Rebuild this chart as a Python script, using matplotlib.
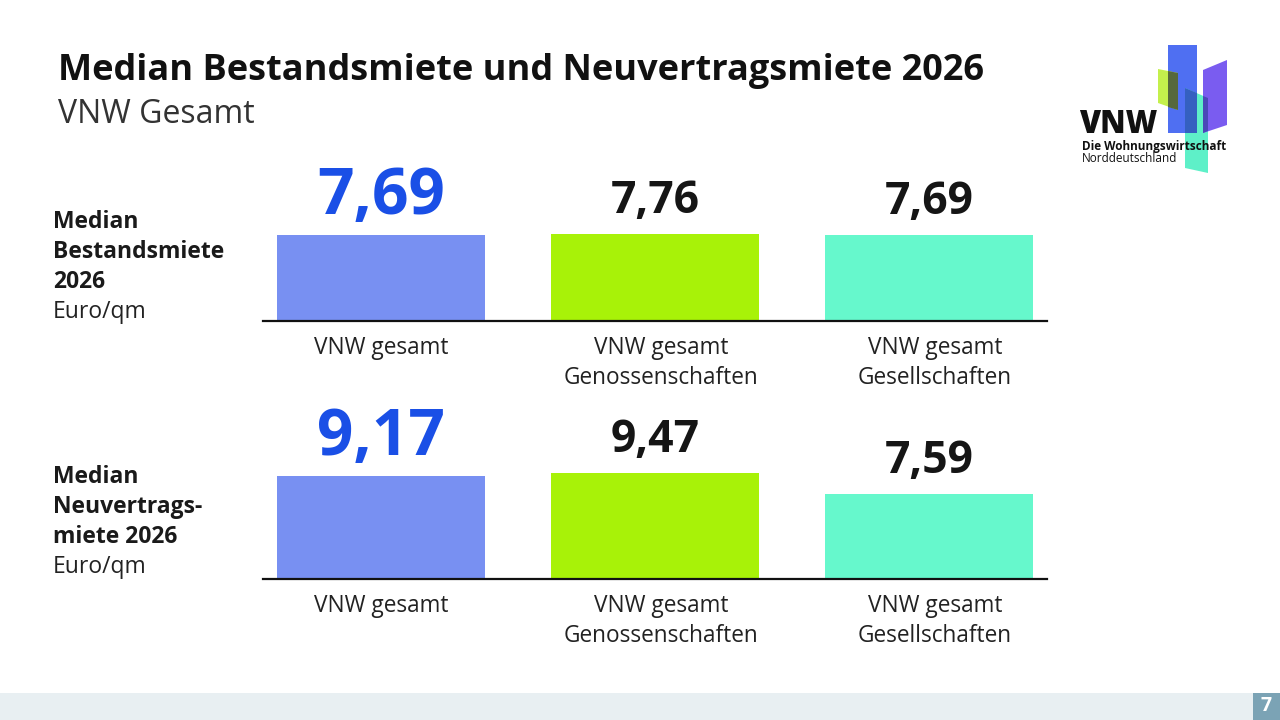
import matplotlib
matplotlib.use("Agg")
import matplotlib.pyplot as plt
import matplotlib.transforms as mtransforms
from matplotlib.patches import Polygon, Rectangle

plt.rcParams['font.family'] = ['Open Sans', 'DejaVu Sans']

# data
categories = ["VNW gesamt", "VNW gesamt\nGenossenschaften", "VNW gesamt\nGesellschaften"]
bestand = [7.69, 7.76, 7.69]
neuvertrag = [9.17, 9.47, 7.59]
bestand_labels = ["7,69", "7,76", "7,69"]
neuvertrag_labels = ["9,17", "9,47", "7,59"]
bar_colors = ["#7890f2", "#a8f208", "#66f8cc"]

W, H = 1280, 720


def fx(px):
    return px / W


def fy(py):
    return 1 - py / H


fig = plt.figure(figsize=(12.8, 7.2), dpi=100)
fig.patch.set_facecolor("white")


def draw_panel(bottom_px, values, labels):
    ax = fig.add_axes([fx(263), fy(bottom_px), fx(1047) - fx(263), 161 / H])
    x = range(len(values))
    ax.bar(x, values, width=0.76, color=bar_colors, edgecolor="none")
    ax.set_xlim(-0.4307, 2.4307)
    ax.set_ylim(0, 14.375)
    for s in ["top", "left", "right"]:
        ax.spines[s].set_visible(False)
    ax.spines["bottom"].set_linewidth(1.6)
    ax.spines["bottom"].set_color("#111111")
    ax.set_yticks([])
    ax.set_xticks(list(x))
    ax.set_xticklabels(categories, fontsize=16.3, color="#222222", linespacing=1.32)
    ax.tick_params(axis="x", length=0, pad=11)
    # the two right labels sit a little right of the bar centre in the original
    shift = mtransforms.ScaledTranslation(6 / 100, 0, fig.dpi_scale_trans)
    for t in ax.get_xticklabels()[1:]:
        t.set_transform(t.get_transform() + shift)
    for i, (v, lab) in enumerate(zip(values, labels)):
        if i == 0:
            ax.annotate(lab, (i, v), xytext=(0, 15), textcoords="offset points",
                        ha="center", va="baseline", fontsize=46, fontweight="bold",
                        color="#1a4fe6")
        else:
            ax.annotate(lab, (i, v), xytext=(0, 15), textcoords="offset points",
                        ha="center", va="baseline", fontsize=32, fontweight="bold",
                        color="#151515")
    return ax


draw_panel(321, bestand, bestand_labels)
draw_panel(579, neuvertrag, neuvertrag_labels)

# titles
fig.text(fx(58), fy(80), "Median Bestandsmiete und Neuvertragsmiete 2026",
         fontsize=26, fontweight="bold", color="#111111", va="baseline")
fig.text(fx(58), fy(123), "VNW Gesamt", fontsize=23, color="#333333", va="baseline")

# row labels
rows = [
    (["Median", "Bestandsmiete", "2026"], 228),
    (["Median", "Neuvertrags-", "miete 2026"], 483),
]
for lines, base in rows:
    for k, line in enumerate(lines):
        fig.text(fx(53), fy(base + 30 * k), line, fontsize=16.5, fontweight="bold",
                 color="#1a1a1a", va="baseline")
    fig.text(fx(53), fy(base + 90), "Euro/qm", fontsize=16.5, color="#222222",
             va="baseline")

# footer
fig.patches.append(Rectangle((0, 0), fx(1253), 27 / H, transform=fig.transFigure,
                             facecolor="#e8eff2", edgecolor="none"))
fig.patches.append(Rectangle((fx(1253), 0), 1 - fx(1253), 27 / H, transform=fig.transFigure,
                             facecolor="#7ba3b5", edgecolor="none"))
fig.text(fx(1266), fy(706), "7", fontsize=14, fontweight="bold", color="white",
         ha="center", va="center")


# logo
def poly(pts, color, alpha=1.0):
    fig.patches.append(Polygon([(fx(a), fy(b)) for a, b in pts], closed=True,
                               transform=fig.transFigure, facecolor=color,
                               edgecolor="none", alpha=alpha))


poly([(1168, 45), (1197, 45), (1197, 133), (1168, 133)], "#4f6ff2")
poly([(1158, 69), (1178, 73), (1178, 110), (1158, 103)], "#c4f04c")
poly([(1168, 71), (1178, 73), (1178, 110), (1168, 107)], "#56683c")
poly([(1185, 88), (1208, 98), (1208, 173), (1185, 168)], "#5ef0c8")
poly([(1185, 88), (1197, 93), (1197, 133), (1185, 133)], "#3560c0")
poly([(1203, 70), (1227, 60), (1227, 125), (1203, 133)], "#7a5cf0")
poly([(1203, 96), (1208, 98), (1208, 131), (1203, 133)], "#4a48b8")

fig.text(fx(1079), fy(133), "VNW", fontsize=22, fontweight="heavy", color="#111111",
         va="baseline")
fig.text(fx(1082), fy(150), "Die Wohnungswirtschaft", fontsize=8.5, fontweight="bold",
         color="#111111", va="baseline")
fig.text(fx(1082), fy(162), "Norddeutschland", fontsize=8.5, color="#111111",
         va="baseline")

fig.savefig("out.png", dpi=100)
